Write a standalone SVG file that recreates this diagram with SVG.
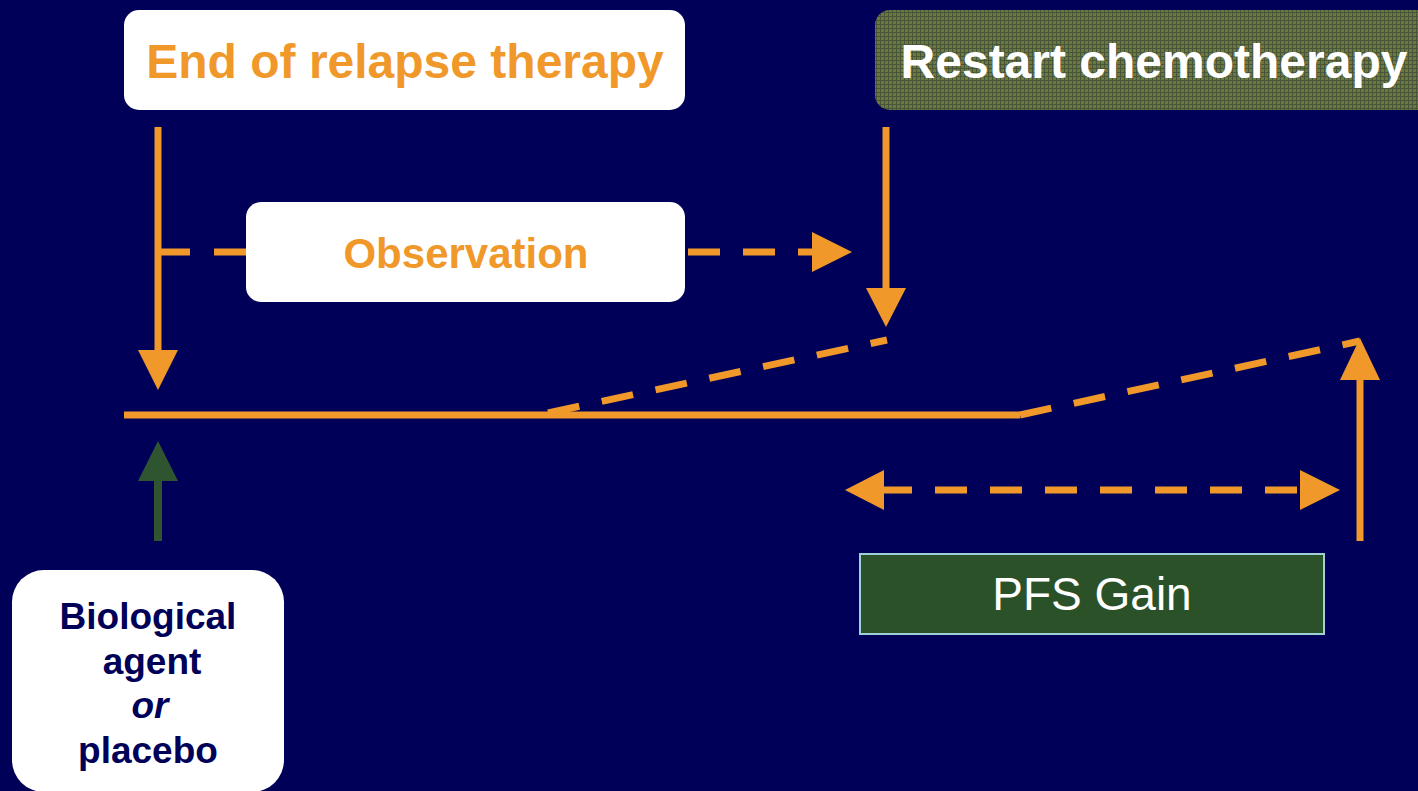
<svg xmlns="http://www.w3.org/2000/svg" width="1418" height="791" viewBox="0 0 1418 791">
<defs>
<style>
.box{fill:#ffffff}
.ot{font-family:"Liberation Sans",Arial,sans-serif;font-weight:bold;fill:#F0992A;text-anchor:middle}
.wt{font-family:"Liberation Sans",Arial,sans-serif;font-weight:bold;fill:#ffffff;text-anchor:middle}
.nt{font-family:"Liberation Sans",Arial,sans-serif;font-weight:bold;fill:#000058;text-anchor:middle;font-size:37px}
.ln{stroke:#F0992A;stroke-width:7;fill:none}
.dash{stroke:#F0992A;stroke-width:7;fill:none;stroke-dasharray:32 23}
.ah{fill:#F0992A}
</style>
<pattern id="olive" width="4" height="4" patternUnits="userSpaceOnUse">
<rect width="4" height="4" fill="#6A7A3E"/>
<rect x="0" y="0" width="4" height="1" fill="#48553A"/>
<rect x="0" y="0" width="1" height="4" fill="#48553A"/>
</pattern>
</defs>
<rect width="1418" height="791" fill="#000058"/>

<g id="connectors">
<line class="ln" x1="158" y1="127" x2="158" y2="355"/>
<polygon class="ah" points="138,350 178,350 158,390"/>
<line class="ln" x1="158" y1="252" x2="190" y2="252"/>
<line class="ln" x1="214" y1="252" x2="246" y2="252"/>
<line class="dash" x1="688" y1="252" x2="815" y2="252" stroke-dasharray="21 21 32 23"/>
<polygon class="ah" points="812,232 852,252 812,272"/>
<line class="ln" x1="886" y1="127" x2="886" y2="292"/>
<polygon class="ah" points="866,288 906,288 886,327"/>
<line class="ln" x1="124" y1="415" x2="1020" y2="415"/>
<line class="dash" x1="548" y1="413" x2="887" y2="340" stroke-dasharray="33 23"/>
<line class="dash" x1="1020" y1="415" x2="1360" y2="341" stroke-dasharray="33 23"/>
<line class="ln" x1="1360" y1="541" x2="1360" y2="375"/>
<polygon class="ah" points="1340,380 1380,380 1360,338"/>
<line class="dash" x1="880" y1="490" x2="1305" y2="490" stroke-dasharray="32 23"/>
<polygon class="ah" points="884,470 884,510 845,490"/>
<polygon class="ah" points="1300,470 1300,510 1340,490"/>
<line x1="158" y1="541" x2="158" y2="475" stroke="#2E5430" stroke-width="8"/>
<polygon points="138,481 178,481 158,441" fill="#2E5430"/>
</g>

<g id="end-relapse">
<rect class="box" x="124" y="10" width="561" height="100" rx="15"/>
<text class="ot" x="405" y="78" font-size="48">End of relapse therapy</text>
</g>

<g id="restart-chemo">
<rect x="875" y="10" width="570" height="100" rx="15" fill="url(#olive)"/>
<text class="wt" x="1154" y="78" font-size="48">Restart chemotherapy</text>
</g>

<g id="observation">
<rect class="box" x="246" y="202" width="439" height="100" rx="15"/>
<text class="ot" x="466" y="268" font-size="42">Observation</text>
</g>

<g id="pfs-gain">
<rect x="860" y="554" width="464" height="80" fill="#2B5129" stroke="#9FD0D6" stroke-width="2"/>
<text x="1092" y="610" font-size="46" fill="#ffffff" text-anchor="middle" font-family="'Liberation Sans',Arial,sans-serif">PFS Gain</text>
</g>

<g id="biological">
<rect class="box" x="12" y="570" width="272" height="222" rx="32"/>
<text class="nt" x="148" y="629">Biological</text>
<text class="nt" x="152" y="674">agent</text>
<text class="nt" x="150" y="718" font-style="italic">or</text>
<text class="nt" x="148" y="763">placebo</text>
</g>
</svg>
